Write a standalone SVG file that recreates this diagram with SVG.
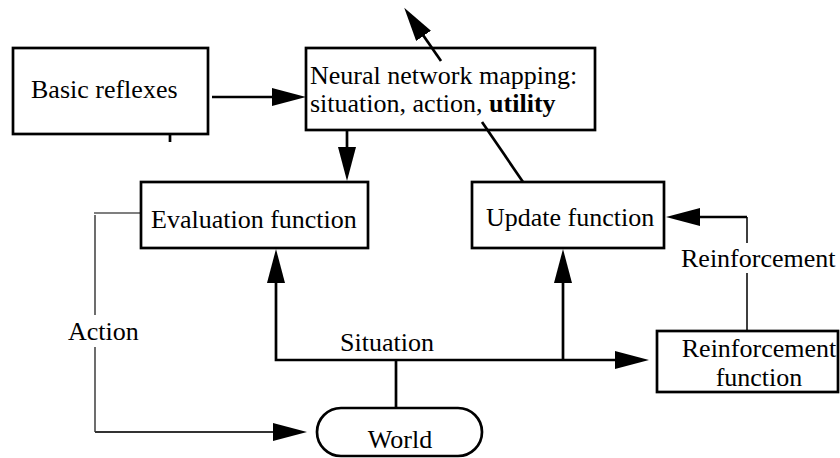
<svg xmlns="http://www.w3.org/2000/svg" width="840" height="458" viewBox="0 0 840 458">
  <defs>
    <style>
      .box { fill: #fff; stroke: #000; stroke-width: 2.7; }
      .t { font-family: 'Liberation Serif', 'Times New Roman', Times, 'DejaVu Serif', serif; font-size: 26px; fill: #000; }
      .c { fill: none; stroke: #000; stroke-width: 2.7; }
      .thin { fill: none; stroke: #000; stroke-width: 1.5; }
      .gray { fill: none; stroke: #555; stroke-width: 1.7; }
    </style>
    <marker id="ah" markerWidth="35" markerHeight="18" refX="1" refY="9" orient="auto-start-reverse" markerUnits="userSpaceOnUse">
      <path d="M0,0 L34,9 L0,18 z" fill="#000"/>
    </marker>
  </defs>

  <g id="connectors">
    <path class="c" d="M212,97 H273" marker-end="url(#ah)"/>
    <path class="c" d="M170,134 V142"/>
    <path class="c" d="M347,130 V148" marker-end="url(#ah)"/>
    <path class="c" d="M523,182 L482,122"/>
    <path class="c" d="M441,61 L423,35" marker-end="url(#ah)"/>
    <path class="c" d="M276,282 V360 H616" marker-start="url(#ah)" marker-end="url(#ah)"/>
    <path class="c" d="M563,360 V282" marker-end="url(#ah)"/>
    <path class="c" d="M396,408 V360"/>
    <path class="thin" d="M747,331 V273 M747,243 V217"/>
    <path class="c" d="M747,217 H699" marker-end="url(#ah)"/>
    <path class="gray" d="M141,213 H94 M95,215 V315 M95,347 V432"/>
    <path fill="none" stroke="#333" stroke-width="2" d="M95,432 H274" marker-end="url(#ah)"/>
  </g>

  <g id="basic-reflexes">
    <rect class="box" x="13" y="48" width="195" height="86"/>
    <text class="t" font-family="Liberation Serif, serif" x="31" y="98">Basic reflexes</text>
  </g>

  <g id="neural-network">
    <rect class="box" x="306" y="48" width="289" height="82" style="fill:none"/>
    <text class="t" font-family="Liberation Serif, serif" x="310" y="84">Neural network mapping:</text>
    <text class="t" font-family="Liberation Serif, serif" x="310" y="112">situation, action, <tspan font-weight="bold">utility</tspan></text>
  </g>

  <g id="evaluation-function">
    <rect class="box" x="141" y="182" width="227" height="66"/>
    <text class="t" font-family="Liberation Serif, serif" x="151" y="228">Evaluation function</text>
  </g>

  <g id="update-function">
    <rect class="box" x="472" y="182" width="192" height="66"/>
    <text class="t" font-family="Liberation Serif, serif" x="486" y="226">Update function</text>
  </g>

  <g id="reinforcement-function">
    <rect class="box" x="657" y="331" width="181" height="61"/>
    <text class="t" font-family="Liberation Serif, serif" x="759" y="357" text-anchor="middle">Reinforcement</text>
    <text class="t" font-family="Liberation Serif, serif" x="759" y="386" text-anchor="middle">function</text>
  </g>

  <g id="world">
    <rect class="box" x="317" y="408" width="165" height="48" rx="24" ry="24"/>
    <text class="t" font-family="Liberation Serif, serif" x="400" y="448" text-anchor="middle">World</text>
  </g>

  <g id="labels">
    <text class="t" font-family="Liberation Serif, serif" x="681" y="267">Reinforcement</text>
    <text class="t" font-family="Liberation Serif, serif" x="68" y="340">Action</text>
    <text class="t" font-family="Liberation Serif, serif" x="340" y="351">Situation</text>
  </g>
</svg>
